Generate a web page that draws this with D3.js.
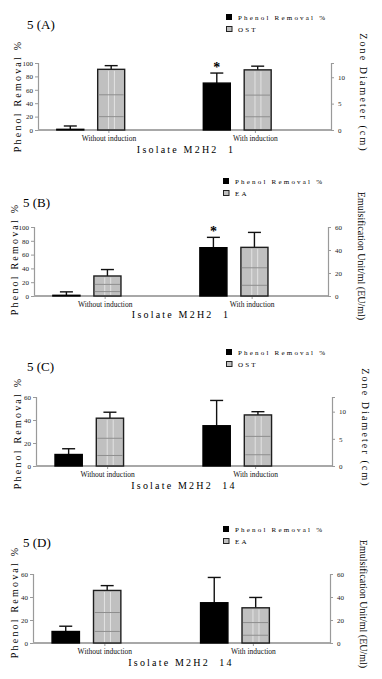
<!DOCTYPE html>
<html>
<head>
<meta charset="utf-8">
<script src="https://cdn.jsdelivr.net/npm/d3@7"></script>
<style>
  body { margin: 0; background: #fff; }
  svg { display: block; font-family: "Liberation Serif", "DejaVu Serif", serif; }
</style>
</head>
<body>
<div id="chart"></div>
<script>
// categories and series
var categories = ["Without induction", "With induction"];
var series = ["phenol", "other"];

// 5 (A) isolate M2H2 1, OST
var phenolA = [1, 70], phenolErrA = [5, 15];
var ostA = [11.5, 11.4], ostErrA = [0.7, 0.7];
// 5 (B) isolate M2H2 1, EA
var phenolB = [1, 70], phenolErrB = [5, 15];
var eaB = [17.4, 42.3], eaErrB = [5.6, 13];
// 5 (C) isolate M2H2 14, OST
var phenolC = [10, 35], phenolErrC = [5, 22];
var ostC = [8.8, 9.4], ostErrC = [1.1, 0.6];
// 5 (D) isolate M2H2 14, EA
var phenolD = [10, 35], phenolErrD = [4.6, 22];
var eaD = [45.7, 30.6], eaErrD = [4.2, 9];

// tick labels
var leftTicks100 = [0, 20, 40, 60, 80, 100];
var leftTicks60 = [0, 20, 40, 60];
var ostTicks = [0, 5, 10];
var eaTicks = [0, 20, 40, 60];

var svg = d3.select("#chart").append("svg")
  .attr("width", 382)
  .attr("height", 679);

function drawPanel(p) {
  var g = svg.append("g");
  var W = p.x1 - p.x0;

  // scales
  var x = d3.scaleBand().domain(categories)
    .range([p.x0, p.x0 + 0.86 * W]).paddingInner(0.28).paddingOuter(0);
  var xs = d3.scaleBand().domain(series)
    .range([0, x.bandwidth()]).paddingInner(0.34).paddingOuter(0.46);
  var yL = d3.scaleLinear().domain(p.leftDomain).range([p.yZero, p.yTop]);
  var yR = d3.scaleLinear().domain(p.rightDomain).range([p.yZero, p.yTop]);

  // left axis
  var la = g.append("g")
    .attr("transform", `translate(${p.x0},0)`)
    .call(d3.axisLeft(yL).tickValues(p.leftTicks).tickSize(3).tickPadding(2));
  // right axis
  var ra = g.append("g")
    .attr("transform", `translate(${p.x1},0)`)
    .call(d3.axisRight(yR).tickValues(p.rightTicks).tickSize(3).tickPadding(4));
  [la, ra].forEach(function (a) {
    a.attr("font-family", null);
    a.select(".domain").attr("stroke", "#9a9a9a").attr("stroke-width", 1.2);
    a.selectAll(".tick line").attr("stroke", "#9a9a9a");
    a.selectAll(".tick text").attr("fill", "#222").style("font-size", "7px");
  });

  // category axis (ticks sit right of the bar groups)
  var xa = g.append("g")
    .attr("transform", `translate(${0.062 * W},${p.yZero})`)
    .call(d3.axisBottom(x).tickSize(3).tickPadding(3));
  xa.attr("font-family", null);
  xa.select(".domain").remove();
  xa.selectAll(".tick line").attr("stroke", "#9a9a9a");
  xa.selectAll(".tick text").attr("fill", "#111").style("font-size", "7.5px");

  g.append("line")
    .attr("x1", p.x0).attr("x2", p.x1)
    .attr("y1", p.yZero).attr("y2", p.yZero)
    .attr("stroke", "#a8a8a8").attr("stroke-width", 2);

  var rows = [];
  categories.forEach(function (c, i) {
    rows.push({ cat: c, s: "phenol", v: p.phenol[i], e: p.phenolErr[i], y: yL });
    rows.push({ cat: c, s: "other", v: p.other[i], e: p.otherErr[i], y: yR });
  });

  // error bars
  var eb = g.append("g").selectAll("g").data(rows).join("g");
  eb.append("line")
    .attr("x1", d => x(d.cat) + xs(d.s) + xs.bandwidth() / 2)
    .attr("x2", d => x(d.cat) + xs(d.s) + xs.bandwidth() / 2)
    .attr("y1", d => d.y(d.v))
    .attr("y2", d => d.y(d.v + d.e))
    .attr("stroke", "#111").attr("stroke-width", 1.4);
  eb.append("line")
    .attr("x1", d => x(d.cat) + xs(d.s) + xs.bandwidth() / 2 - 6.5)
    .attr("x2", d => x(d.cat) + xs(d.s) + xs.bandwidth() / 2 + 6.5)
    .attr("y1", d => d.y(d.v + d.e))
    .attr("y2", d => d.y(d.v + d.e))
    .attr("stroke", "#111").attr("stroke-width", 1.4);

  // bars
  g.append("g").selectAll("rect").data(rows).join("rect")
    .attr("x", d => x(d.cat) + xs(d.s))
    .attr("y", d => d.y(d.v))
    .attr("width", xs.bandwidth())
    .attr("height", d => p.yZero - d.y(d.v))
    .attr("fill", d => d.s === "phenol" ? "#000" : "#c0c0c0")
    .attr("stroke", d => d.s === "phenol" ? "#000" : "#1e1e1e")
    .attr("stroke-width", 1.4);

  // texture inside grey bars
  var grey = rows.filter(d => d.s === "other");
  var tex = g.append("g").selectAll("g").data(grey).join("g");
  [0.4, 0.62].forEach(function (f) {
    tex.append("line")
      .attr("x1", d => x(d.cat) + xs(d.s) + xs.bandwidth() * f)
      .attr("x2", d => x(d.cat) + xs(d.s) + xs.bandwidth() * f)
      .attr("y1", d => d.y(d.v) + 1.5)
      .attr("y2", p.yZero - 1)
      .attr("stroke", "#e2e2e2").attr("stroke-width", 1);
  });
  [0.22, 0.58].forEach(function (f) {
    tex.append("line")
      .attr("x1", d => x(d.cat) + xs(d.s) + 1)
      .attr("x2", d => x(d.cat) + xs(d.s) + xs.bandwidth() - 1)
      .attr("y1", d => p.yZero - (p.yZero - d.y(d.v)) * f)
      .attr("y2", d => p.yZero - (p.yZero - d.y(d.v)) * f)
      .attr("stroke", "#8e8e8e").attr("stroke-width", 1);
  });

  // significance star
  if (p.star) {
    var sr = rows[2];
    g.append("text")
      .attr("x", x(sr.cat) + xs(sr.s) + xs.bandwidth() / 2)
      .attr("y", sr.y(sr.v + sr.e) - 1)
      .attr("text-anchor", "middle")
      .style("font-size", "14px").style("font-weight", "bold")
      .text("*");
  }

  // panel title
  g.append("text").attr("x", p.titleX).attr("y", p.titleY)
    .style("font-size", "13px").text(p.title);

  // legend
  var lg = g.append("g").attr("transform", `translate(${p.legX},${p.legY})`);
  lg.append("rect").attr("x", 0).attr("y", 0).attr("width", 6).attr("height", 6)
    .attr("fill", "#000");
  lg.append("text").attr("x", 12).attr("y", 6)
    .style("font-size", "7px").style("letter-spacing", "2.2px")
    .text("Phenol Removal %");
  lg.append("rect").attr("x", 0.5).attr("y", 12.5).attr("width", 5.5).attr("height", 5)
    .attr("fill", "#c0c0c0").attr("stroke", "#222").attr("stroke-width", 1);
  lg.append("text").attr("x", 12).attr("y", 18)
    .style("font-size", "7px").style("letter-spacing", "2.2px")
    .text(p.otherName);

  // axis titles
  g.append("text")
    .attr("transform", `translate(${p.leftLabelX},${p.leftLabelY}) rotate(-90)`)
    .attr("text-anchor", "middle")
    .style("font-size", "10px").style("letter-spacing", "2.2px")
    .text("Phenol Removal %");
  g.append("text")
    .attr("transform", `translate(${p.rightLabelX},${p.rightLabelY}) rotate(90)`)
    .attr("text-anchor", "middle")
    .style("font-size", "10px").style("letter-spacing", p.rightSpacing)
    .text(p.rightLabel);
  g.append("text")
    .attr("x", p.xTitleX).attr("y", p.xTitleY)
    .attr("text-anchor", "middle")
    .style("font-size", "10px").style("letter-spacing", "2.2px")
    .style("white-space", "pre")
    .text(p.xTitle);
}

drawPanel({
  title: "5 (A)", titleX: 27, titleY: 29,
  x0: 38, x1: 331, yTop: 63, yZero: 130,
  leftDomain: [0, 100], leftTicks: leftTicks100,
  rightDomain: [0, 12.7], rightTicks: ostTicks,
  phenol: phenolA, phenolErr: phenolErrA, other: ostA, otherErr: ostErrA,
  otherName: "OST", star: true, legX: 226, legY: 14,
  leftLabelX: 21, leftLabelY: 96,
  rightLabelX: 360, rightLabelY: 93, rightLabel: "Zone Diameter (cm)", rightSpacing: "2.1px",
  xTitle: "Isolate M2H2  1", xTitleX: 186, xTitleY: 153
});
drawPanel({
  title: "5 (B)", titleX: 23, titleY: 207,
  x0: 34, x1: 328, yTop: 227, yZero: 296,
  leftDomain: [0, 100], leftTicks: leftTicks100,
  rightDomain: [0, 60], rightTicks: eaTicks,
  phenol: phenolB, phenolErr: phenolErrB, other: eaB, otherErr: eaErrB,
  otherName: "EA", star: true, legX: 223, legY: 178,
  leftLabelX: 18, leftLabelY: 259,
  rightLabelX: 358, rightLabelY: 256, rightLabel: "Emulsification Unit/ml (EU/ml)", rightSpacing: "0px",
  xTitle: "Isolate M2H2  1", xTitleX: 181, xTitleY: 318
});
drawPanel({
  title: "5 (C)", titleX: 27, titleY: 371,
  x0: 36, x1: 332, yTop: 397, yZero: 466,
  leftDomain: [0, 60], leftTicks: leftTicks60,
  rightDomain: [0, 12.7], rightTicks: ostTicks,
  phenol: phenolC, phenolErr: phenolErrC, other: ostC, otherErr: ostErrC,
  otherName: "OST", star: false, legX: 226, legY: 349,
  leftLabelX: 21, leftLabelY: 433,
  rightLabelX: 362, rightLabelY: 428, rightLabel: "Zone Diameter (cm)", rightSpacing: "2.1px",
  xTitle: "Isolate M2H2  14", xTitleX: 184, xTitleY: 489
});
drawPanel({
  title: "5 (D)", titleX: 23, titleY: 547,
  x0: 33, x1: 330, yTop: 574, yZero: 643,
  leftDomain: [0, 60], leftTicks: leftTicks60,
  rightDomain: [0, 60], rightTicks: eaTicks,
  phenol: phenolD, phenolErr: phenolErrD, other: eaD, otherErr: eaErrD,
  otherName: "EA", star: false, legX: 223, legY: 526,
  leftLabelX: 18, leftLabelY: 602,
  rightLabelX: 360, rightLabelY: 604, rightLabel: "Emulsification Unit/ml (EU/ml)", rightSpacing: "0px",
  xTitle: "Isolate M2H2  14", xTitleX: 181, xTitleY: 666
});
</script>
</body>
</html>
